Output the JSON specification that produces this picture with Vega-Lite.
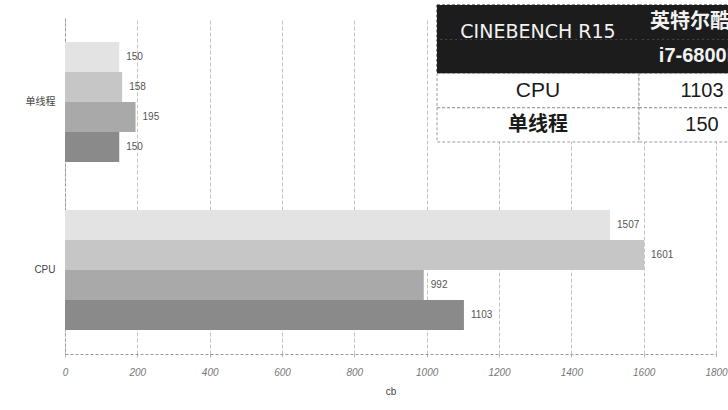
{
  "$schema": "https://vega.github.io/schema/vega-lite/v6.json",
  "width": 651,
  "height": 336,
  "autosize": {"type": "none"},
  "padding": {"left": 65, "top": 18, "right": 12, "bottom": 56},
  "background": "white",
  "config": {"view": {"stroke": null}},
  "datasets": {
    "bars": [
      {"cat": "单线程", "s": "A", "v": 150},
      {"cat": "单线程", "s": "B", "v": 158},
      {"cat": "单线程", "s": "C", "v": 195},
      {"cat": "单线程", "s": "i7-6800K", "v": 150},
      {"cat": "CPU", "s": "A", "v": 1507},
      {"cat": "CPU", "s": "B", "v": 1601},
      {"cat": "CPU", "s": "C", "v": 992},
      {"cat": "CPU", "s": "i7-6800K", "v": 1103}
    ],
    "table": [
      {"r": "h1", "c": "c1", "t": "CINEBENCH R15"},
      {"r": "h2", "c": "c1", "t": ""},
      {"r": "h1", "c": "c2", "t": "英特尔酷睿"},
      {"r": "h2", "c": "c2", "t": "i7-6800K"},
      {"r": "CPU", "c": "c1", "t": "CPU"},
      {"r": "CPU", "c": "c2", "t": "1103"},
      {"r": "单线程", "c": "c1", "t": "单线程"},
      {"r": "单线程", "c": "c2", "t": "150"}
    ]
  },
  "layer": [
    {
      "data": {"name": "bars"},
      "encoding": {
        "y": {
          "field": "cat", "type": "nominal", "sort": ["单线程", "CPU"],
          "scale": {"paddingInner": 0.286, "paddingOuter": 0.143},
          "axis": {
            "title": null, "ticks": false, "domainColor": "#9a9a9a", "domainDash": [3, 2],
            "labelFont": "Liberation Sans, Noto Sans CJK SC", "labelFontSize": 10, "labelColor": "#444",
            "labelPadding": 10
          }
        },
        "yOffset": {"field": "s", "type": "nominal", "sort": ["A", "B", "C", "i7-6800K"]},
        "x": {
          "field": "v", "type": "quantitative",
          "scale": {"domain": [0, 1800], "nice": false},
          "axis": {
            "title": "cb", "values": [0, 200, 400, 600, 800, 1000, 1200, 1400, 1600, 1800], "format": "d",
            "grid": true, "gridColor": "#c4c4c4", "gridDash": [4, 2], "gridWidth": 1,
            "domainColor": "#9a9a9a", "domainDash": [3, 2],
            "tickColor": "#b8b8b8", "tickSize": 3,
            "labelFont": "Liberation Sans", "labelFontStyle": "italic", "labelFontSize": 10,
            "labelColor": "#777", "labelPadding": 10, "labelFlush": false,
            "titleFont": "Liberation Sans", "titleFontSize": 10, "titleFontWeight": "normal",
            "titleColor": "#444", "titlePadding": 9
          }
        }
      },
      "layer": [
        {
          "mark": {"type": "bar"},
          "encoding": {
            "color": {
              "field": "s", "type": "nominal",
              "scale": {"domain": ["A", "B", "C", "i7-6800K"], "range": ["#e3e3e3", "#c6c6c6", "#a9a9a9", "#8a8a8a"]},
              "legend": null
            }
          }
        },
        {
          "mark": {"type": "text", "align": "left", "dx": 7, "fontSize": 10, "font": "Liberation Sans", "color": "#555"},
          "encoding": {"text": {"field": "v", "type": "quantitative", "format": "d"}}
        }
      ]
    },
    {
      "data": {"name": "table"},
      "encoding": {
        "x": {"field": "c", "type": "nominal", "scale": {"domain": ["c1", "c2"], "range": [372, 776], "paddingInner": 0, "paddingOuter": 0}, "axis": null},
        "y": {"field": "r", "type": "nominal", "scale": {"domain": ["h1", "h2", "CPU", "单线程"], "range": [-13, 124], "paddingInner": 0, "paddingOuter": 0}, "axis": null}
      },
      "layer": [
        {
          "mark": {"type": "rect", "strokeDash": [3, 2], "strokeWidth": 1},
          "encoding": {
            "fill": {"condition": {"test": "datum.r === 'h1' || datum.r === 'h2'", "value": "#1c1c1c"}, "value": "#ffffff"},
            "stroke": {"condition": {"test": "datum.r === 'h1' || datum.r === 'h2'", "value": "#1c1c1c"}, "value": "#9a9a9a"}
          }
        },
        {
          "transform": [{"filter": "datum.r === 'h1' && datum.c === 'c1'"}],
          "mark": {"type": "text", "dy": 10, "fontSize": 19, "font": "DejaVu Sans", "color": "#f2f2f2"},
          "encoding": {"text": {"field": "t"}}
        },
        {
          "transform": [{"filter": "(datum.r === 'h1' || datum.r === 'h2') && datum.c === 'c2'"}],
          "mark": {"type": "text", "dx": -40, "fontSize": 20, "fontWeight": "bold", "font": "Liberation Sans, Noto Sans CJK SC", "color": "#f2f2f2"},
          "encoding": {"text": {"field": "t"}}
        },
        {
          "transform": [{"filter": "datum.r === 'CPU' && datum.c === 'c1'"}],
          "mark": {"type": "text", "fontSize": 21, "font": "Liberation Sans", "color": "#1a1a1a"},
          "encoding": {"text": {"field": "t"}}
        },
        {
          "transform": [{"filter": "datum.r === '单线程' && datum.c === 'c1'"}],
          "mark": {"type": "text", "fontSize": 20, "fontWeight": "bold", "font": "Noto Sans CJK SC", "color": "#1a1a1a"},
          "encoding": {"text": {"field": "t"}}
        },
        {
          "transform": [{"filter": "(datum.r === 'CPU' || datum.r === '单线程') && datum.c === 'c2'"}],
          "mark": {"type": "text", "dx": -38, "fontSize": 20, "font": "Liberation Sans", "color": "#1a1a1a"},
          "encoding": {"text": {"field": "t"}}
        }
      ]
    }
  ],
  "resolve": {"scale": {"x": "independent", "y": "independent", "yOffset": "independent"}}
}
